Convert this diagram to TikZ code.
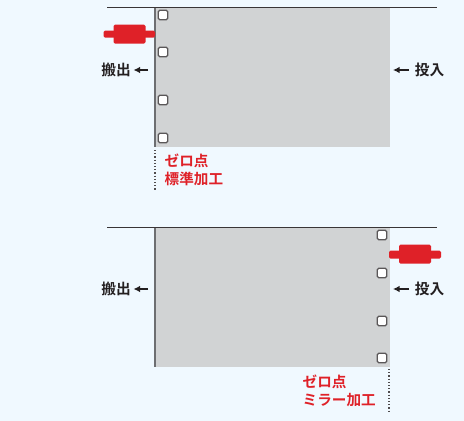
\documentclass[tikz,border=0pt]{standalone}
\usepackage{fontspec}
\setmainfont{Noto Sans CJK JP}[BoldFont={Noto Sans CJK JP Bold}]
\usetikzlibrary{arrows.meta}
\definecolor{bgc}{HTML}{F0F9FF}
\definecolor{plate}{HTML}{D1D3D4}
\definecolor{redc}{HTML}{DF2128}
\definecolor{inkc}{HTML}{231F20}
\definecolor{linec}{HTML}{6D6E71}
\tikzset{
 x=1pt,y=-1pt,
 plateshape/.style={fill=plate,draw=none},
 edgeline/.style={draw=linec,line width=1.6pt},
 topline/.style={draw=inkc!90,line width=1.1pt},
 zeroline/.style={draw=inkc!80,line width=1.3pt,dash pattern=on 1.2pt off 2pt},
 hole/.style={draw=inkc!75,fill=white,line width=1.4pt,rounded corners=1.5pt,minimum size=9.5pt,inner sep=0pt,outer sep=0pt},
 label/.style={text=inkc,font=\bfseries\fontsize{14.7}{14.7}\selectfont,inner sep=0pt},
 redlabel/.style={text=redc,font=\bfseries\fontsize{14.6}{17.5}\selectfont,inner sep=0pt,align=left,anchor=north west},
 feed/.style={draw=inkc,line width=1.2pt,-{Latex[length=6.5pt,width=6.5pt]}},
 clampbody/.style={fill=redc,rounded corners=1.5pt},
}
\begin{document}
\begin{tikzpicture}
\useasboundingbox[fill=bgc] (0,0) rectangle (464,421);
% upper
\fill[plateshape] (155,7.5) rectangle (390,147);
\coordinate (t1) at (107,7.5); \coordinate (t2) at (437,7.5);
\draw[topline] (t1) -- (t2);
\coordinate (e1) at (155,7.5); \coordinate (e2) at (155,147); \coordinate (e3) at (155,191); \coordinate (e0) at (155,150);
\draw[edgeline] (e1) -- (e2);
\draw[zeroline] (e0) -- (e3);
\fill[clampbody] (103.5,30.5) rectangle (155,37.5);
\fill[clampbody] (113.5,24.5) rectangle (145.5,43.5);
\node[hole] (h1) at (163,15) {};
\node[hole] (h2) at (163,52) {};
\node[hole] (h3) at (163,100) {};
\node[hole] (h4) at (163,138) {};
\node[label] (out1) at (116,69.5) {搬出};
\coordinate (oa1) at (148,70); \coordinate (ob1) at (133.5,70);
\draw[feed] (oa1) -- (ob1);
\node[label] (in1) at (429.5,69.5) {投入};
\coordinate (ia1) at (409,70); \coordinate (ib1) at (393,70);
\draw[feed] (ia1) -- (ib1);
\node[redlabel] (z1) at (164.5,154) {ゼロ点\\標準加工};
% lower
\fill[plateshape] (155,227.5) rectangle (390,367);
\coordinate (t3) at (107,227.5); \coordinate (t4) at (437,227.5);
\draw[topline] (t3) -- (t4);
\coordinate (e4) at (155,227.5); \coordinate (e5) at (155,367);
\draw[edgeline] (e4) -- (e5);
\coordinate (m1) at (389,369); \coordinate (m2) at (389,411);
\draw[zeroline] (m1) -- (m2);
\fill[clampbody] (389,250.5) rectangle (441,258.5);
\fill[clampbody] (399,244.5) rectangle (431,263.5);
\node[hole] (h5) at (382,235) {};
\node[hole] (h6) at (382,273) {};
\node[hole] (h7) at (382,321) {};
\node[hole] (h8) at (382,358) {};
\node[label] (out2) at (116,288.5) {搬出};
\coordinate (oa2) at (148,289); \coordinate (ob2) at (133.5,289);
\draw[feed] (oa2) -- (ob2);
\node[label] (in2) at (429.5,288.5) {投入};
\coordinate (ia2) at (409,289); \coordinate (ib2) at (393,289);
\draw[feed] (ia2) -- (ib2);
\node[redlabel] (z2) at (302.5,375) {ゼロ点\\ミラー加工};
\end{tikzpicture}
\end{document}
